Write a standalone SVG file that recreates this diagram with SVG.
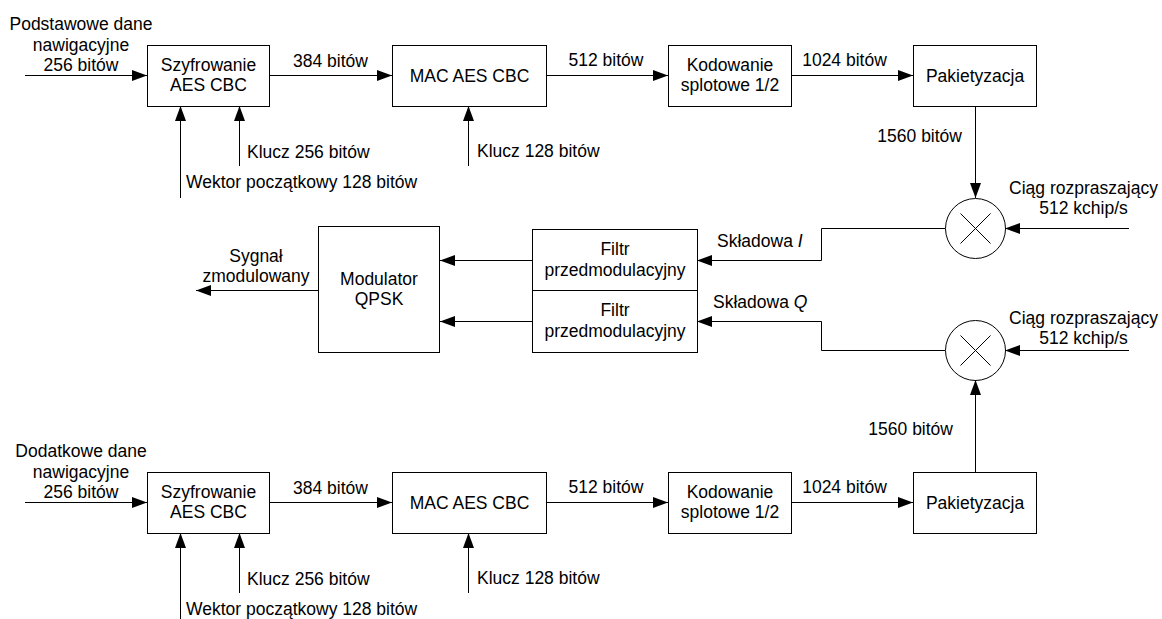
<svg xmlns="http://www.w3.org/2000/svg" width="1162" height="619" viewBox="0 0 1162 619">
<defs>
<style>
text{font-family:"Liberation Sans",Arial,sans-serif;font-size:17.5px;fill:#000}
.c{text-anchor:middle}
.e{text-anchor:end}
.box{fill:#fff;stroke:#000;stroke-width:1}
.ln{fill:none;stroke:#000;stroke-width:1}
.ar{fill:none;stroke:#000;stroke-width:1;marker-end:url(#ah)}
</style>
<marker id="ah" markerUnits="userSpaceOnUse" markerWidth="16" markerHeight="12" refX="15" refY="5.5" orient="auto">
<path d="M0,0 L15,5.5 L0,11 z" fill="#000"/>
</marker>
</defs>
<rect width="1162" height="619" fill="#fff"/>

<g id="connectors">
<!-- top row -->
<path class="ar" d="M25,75.5 H147"/>
<path class="ar" d="M269,75.5 H392"/>
<path class="ar" d="M546,75.5 H668"/>
<path class="ar" d="M791,75.5 H913"/>
<path class="ar" d="M180.5,198 V106"/>
<path class="ar" d="M239.5,166 V106"/>
<path class="ar" d="M468.5,166 V106"/>
<path class="ar" d="M975.5,106 V198"/>
<!-- bottom row -->
<path class="ar" d="M25,502.5 H147"/>
<path class="ar" d="M269,502.5 H392"/>
<path class="ar" d="M546,502.5 H668"/>
<path class="ar" d="M791,502.5 H913"/>
<path class="ar" d="M180.5,625 V533"/>
<path class="ar" d="M239.5,593 V533"/>
<path class="ar" d="M468.5,593 V533"/>
<path class="ar" d="M975.5,472 V380"/>
<!-- spreading -->
<path class="ar" d="M1129,228.5 H1005"/>
<path class="ar" d="M1129,350.5 H1005"/>
<path class="ar" d="M945,228.5 H821.5 V260.5 H697"/>
<path class="ar" d="M945,350.5 H821.5 V321.5 H697"/>
<path class="ar" d="M532,260.5 H440"/>
<path class="ar" d="M532,321.5 H440"/>
<path class="ar" d="M318,290.5 H196"/>
</g>

<g id="top-input-label">
<text class="c" x="81" y="30">Podstawowe dane</text>
<text class="c" x="81" y="50.5">nawigacyjne</text>
<text class="c" x="81" y="71">256 bitów</text>
</g>
<g id="top-szyfrowanie">
<rect class="box" x="147.5" y="45.5" width="122" height="61"/>
<text class="c" x="208.5" y="71">Szyfrowanie</text>
<text class="c" x="208.5" y="91">AES CBC</text>
</g>
<g id="top-mac">
<rect class="box" x="392.5" y="45.5" width="154" height="61"/>
<text class="c" x="469.5" y="81.5">MAC AES CBC</text>
</g>
<g id="top-kodowanie">
<rect class="box" x="668.5" y="45.5" width="123" height="61"/>
<text class="c" x="730" y="70.5">Kodowanie</text>
<text class="c" x="730" y="90.5">splotowe 1/2</text>
</g>
<g id="top-pakietyzacja">
<rect class="box" x="913.5" y="45.5" width="123" height="61"/>
<text class="c" x="975" y="81.5">Pakietyzacja</text>
</g>
<g id="top-labels">
<text class="c" x="330.5" y="67">384 bitów</text>
<text class="c" x="606" y="66">512 bitów</text>
<text class="c" x="844.5" y="66">1024 bitów</text>
<text x="247" y="158">Klucz 256 bitów</text>
<text x="186" y="188">Wektor początkowy 128 bitów</text>
<text x="477" y="157">Klucz 128 bitów</text>
<text class="e" x="962" y="142">1560 bitów</text>
<text class="c" x="1083.5" y="194">Ciąg rozpraszający</text>
<text class="c" x="1083.5" y="214">512 kchip/s</text>
</g>
<g id="top-mixer">
<circle class="ln" cx="975.5" cy="228.5" r="30"/>
<path class="ln" d="M960.5,213.5 L990.5,243.5 M990.5,213.5 L960.5,243.5"/>
</g>

<g id="modulator">
<rect class="box" x="318.5" y="226.5" width="121" height="126"/>
<text class="c" x="379" y="285">Modulator</text>
<text class="c" x="379" y="305">QPSK</text>
</g>
<g id="output-label">
<text class="c" x="256" y="262">Sygnał</text>
<text class="c" x="256" y="282">zmodulowany</text>
</g>
<g id="filter-i">
<rect class="box" x="532.5" y="229.5" width="165" height="61"/>
<text class="c" x="615" y="255">Filtr</text>
<text class="c" x="615" y="276">przedmodulacyjny</text>
</g>
<g id="filter-q">
<rect class="box" x="532.5" y="290.5" width="165" height="62"/>
<text class="c" x="615" y="316">Filtr</text>
<text class="c" x="615" y="337">przedmodulacyjny</text>
</g>
<g id="iq-labels">
<text x="717" y="247">Składowa <tspan font-style="italic">I</tspan></text>
<text x="713" y="308">Składowa <tspan font-style="italic">Q</tspan></text>
</g>

<g id="bottom-mixer">
<circle class="ln" cx="975.5" cy="350.5" r="30"/>
<path class="ln" d="M960.5,335.5 L990.5,365.5 M990.5,335.5 L960.5,365.5"/>
</g>
<g id="bottom-spread-label">
<text class="c" x="1083.5" y="324">Ciąg rozpraszający</text>
<text class="c" x="1083.5" y="344">512 kchip/s</text>
</g>

<g id="bottom-input-label">
<text class="c" x="81" y="457">Dodatkowe dane</text>
<text class="c" x="81" y="477.5">nawigacyjne</text>
<text class="c" x="81" y="498">256 bitów</text>
</g>
<g id="bottom-szyfrowanie">
<rect class="box" x="147.5" y="472.5" width="122" height="61"/>
<text class="c" x="208.5" y="498">Szyfrowanie</text>
<text class="c" x="208.5" y="518">AES CBC</text>
</g>
<g id="bottom-mac">
<rect class="box" x="392.5" y="472.5" width="154" height="61"/>
<text class="c" x="469.5" y="508.5">MAC AES CBC</text>
</g>
<g id="bottom-kodowanie">
<rect class="box" x="668.5" y="472.5" width="123" height="61"/>
<text class="c" x="730" y="497.5">Kodowanie</text>
<text class="c" x="730" y="517.5">splotowe 1/2</text>
</g>
<g id="bottom-pakietyzacja">
<rect class="box" x="913.5" y="472.5" width="123" height="61"/>
<text class="c" x="975" y="508.5">Pakietyzacja</text>
</g>
<g id="bottom-labels">
<text class="c" x="330.5" y="494">384 bitów</text>
<text class="c" x="606" y="493">512 bitów</text>
<text class="c" x="844.5" y="493">1024 bitów</text>
<text x="247" y="585">Klucz 256 bitów</text>
<text x="186" y="615">Wektor początkowy 128 bitów</text>
<text x="477" y="584">Klucz 128 bitów</text>
<text class="e" x="953" y="435">1560 bitów</text>
</g>
</svg>
